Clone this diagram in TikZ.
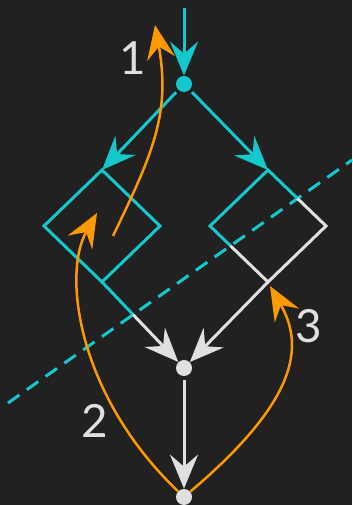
\documentclass[tikz,border=0pt]{standalone}
\usepackage{fontspec}
\setmainfont{Lato}
\usetikzlibrary{arrows.meta, shapes.geometric}

\definecolor{bgdark}{RGB}{33,33,33}
\definecolor{cutcyan}{RGB}{20,200,204}
\definecolor{lightgrey}{RGB}{224,224,224}
\definecolor{loopamber}{RGB}{255,153,0}

\begin{document}
\begin{tikzpicture}[
    x=0.2mm, y=0.2mm,
    font=\fontsize{26}{30}\selectfont,
    >={Stealth[length=6.8mm, width=5.6mm, inset=2.4mm]},
    hub/.style={circle, inner sep=0pt, minimum size=3.2mm},
    block/.style={diamond, inner sep=0pt, outer sep=0pt,
        minimum width=23.2mm, minimum height=22.4mm},
    wire/.style={line width=0.6mm},
    flow/.style={wire, ->, shorten <=0.6mm},
    cutline/.style={wire, cutcyan, dash pattern=on 2.8mm off 1.8mm},
    feedback/.style={->, line width=0.5mm, loopamber},
    numlabel/.style={text=lightgrey},
    upperpart/.style={insert path={(cutL) -- (cutR) -- (352,505) -- (0,505) -- cycle}},
    lowerpart/.style={insert path={(cutL) -- (cutR) -- (352,0) -- (0,0) -- cycle}}
]

% --------------------------------------------------------------------------
% Canvas and the cut line.
% --------------------------------------------------------------------------
\fill[bgdark] (0,0) rectangle (352,505);
\useasboundingbox (0,0) rectangle (352,505);

\coordinate (cutL) at (0,96.4);
\coordinate (cutS) at (8,102);
\coordinate (cutR) at (352,345);
\draw[cutline] (cutS) -- (cutR);

% Nodes: entry, split, two blocks, merge and sink.
\coordinate (in) at (184,497);
\node[hub, fill=cutcyan] (split) at (184,421) {};
\node[block] (ldia) at (102,279) {};
\node[block] (rdia) at (268,279) {};
\node[hub, fill=lightgrey] (merge) at (184,137) {};
\node[hub, fill=lightgrey] (sink) at (184,8) {};

% Forward flow above the cut.
\draw[wire, ->, cutcyan] (in) -- (split);
\draw[flow, cutcyan] (split) -- (ldia.north);
\draw[flow, cutcyan] (split) -- (rdia.north);

% Blocks and their outputs: cyan above the cut, grey below it.
\foreach \part/\ink in {upperpart/cutcyan, lowerpart/lightgrey} {
    \begin{scope}
        \clip[\part];
        \draw[wire, \ink] (ldia.north) -- (ldia.east) -- (ldia.south) -- (ldia.west) -- cycle;
        \draw[wire, \ink] (rdia.north) -- (rdia.east) -- (rdia.south) -- (rdia.west) -- cycle;
        \draw[wire, ->, \ink] (ldia.south) -- (merge);
        \draw[wire, ->, \ink] (rdia.south) -- (merge);
    \end{scope}
}
\draw[flow, lightgrey, shorten <=0.8mm] (merge) -- (sink);

% Feedback arcs.
\coordinate (lpin) at (113,269);
\coordinate (ltop) at (155,480);
\coordinate (lback) at (97,292);
\coordinate (rback) at (270,219);
\draw[feedback] (lpin) .. controls (152,350) and (171,391) .. (ltop);
\draw[feedback] (sink) .. controls (77.7,109.5) and (62,231) .. (lback);
\draw[feedback] (sink) .. controls (297,104) and (305,158) .. (rback);

\node[numlabel] (one) at (133,447) {1};
\node[numlabel] (two) at (95,84) {2};
\node[numlabel] (three) at (309,179) {3};

\end{tikzpicture}
\end{document}
